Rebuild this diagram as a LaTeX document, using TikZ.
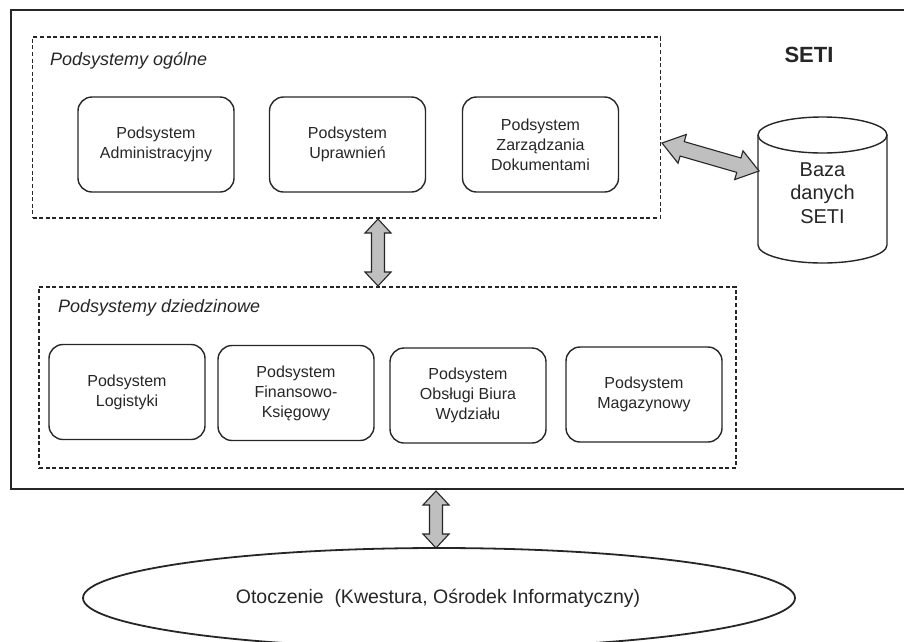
\documentclass[tikz,border=0pt]{standalone}
\usepackage{fontspec}
\setmainfont{Liberation Sans}
\usetikzlibrary{calc,shapes.geometric}
\definecolor{ink}{HTML}{262626}
\definecolor{arrfill}{HTML}{BFBFBF}
\newcommand\blockarr[5]{%
  \path ($(#1)!#3!(#2)$) coordinate (ba1) ($(#2)!#3!(#1)$) coordinate (ba2);
  \draw[barrow] (#1) -- ($(ba1)!#5!90:(#2)$) -- ($(ba1)!#4!90:(#2)$) --
    ($(ba2)!#4!-90:(#1)$) -- ($(ba2)!#5!-90:(#1)$) -- (#2) --
    ($(ba2)!#5!90:(#1)$) -- ($(ba2)!#4!90:(#1)$) --
    ($(ba1)!#4!-90:(#2)$) -- ($(ba1)!#5!-90:(#2)$) -- cycle;}
\begin{document}
\begin{tikzpicture}[x=1pt,y=-1pt,
  outerbox/.style={draw=ink, line width=2.8pt},
  groupbox/.style={draw=ink, line width=1.6pt, dash pattern=on 4pt off 2.6pt, minimum width=#1, minimum height=181pt, inner sep=0pt},
  subbox/.style={draw=ink, line width=1.4pt, rounded corners=14pt, minimum width=156pt, minimum height=95pt, align=center, font=\fontsize{16}{20}\selectfont, text=ink, inner sep=0pt},
  grouplabel/.style={anchor=west, font=\fontsize{18}{22}\selectfont\itshape, text=ink, inner sep=0pt},
  barrow/.style={draw=ink, fill=arrfill, line width=1.1pt, line join=miter},
  cyl/.style={draw=ink, line width=1.4pt}
]
\useasboundingbox (0,0) rectangle (904,641);
% outer SETI frame (right edge lies beyond the picture)
\draw[outerbox] (930,10) -- (11,10) -- (11,489) -- (930,489);
\node[font=\fontsize{22}{26}\selectfont\bfseries, text=ink] (seti) at (809,55) {SETI};

% general subsystems
\node[groupbox=628pt] (gen) at (346.5,127.5) {};
\node[grouplabel] (genlab) at (50,61) {Podsystemy ogólne};
\node[subbox] (adm) at (156,144.5) {Podsystem\\Administracyjny};
\node[subbox] (upr) at (347.5,144.5) {Podsystem\\Uprawnień};
\node[subbox] (zar) at (540.5,144.5) {Podsystem\\Zarządzania\\Dokumentami};

% domain subsystems
\node[groupbox=697pt] (dom) at (387.5,377.5) {};
\node[grouplabel] (domlab) at (58,308) {Podsystemy dziedzinowe};
\node[subbox] (log) at (127,392) {Podsystem\\Logistyki};
\node[subbox] (fin) at (296,393) {Podsystem\\Finansowo-\\Księgowy};
\node[subbox] (obs) at (468,395.5) {Podsystem\\Obsługi Biura\\Wydziału};
\node[subbox] (mag) at (644,394.5) {Podsystem\\Magazynowy};

% database cylinder
\draw[cyl, fill=white] (758,135) -- (758,245) arc[start angle=180, end angle=0, x radius=64.5, y radius=18] -- (887,135);
\draw[cyl] (822.5,135) ellipse [x radius=64.5, y radius=18];
\node[align=center, font=\fontsize{20}{23.5}\selectfont, text=ink] (db) at (822.5,193) {Baza\\danych\\SETI};

% environment
\node[draw=ink, line width=1.8pt, ellipse, minimum width=712pt, minimum height=100pt, inner sep=0pt] (env) at (439,598) {};
\node[font=\fontsize{19.5}{23}\selectfont, text=ink] (envtxt) at (438,598) {Otoczenie\ \ (Kwestura, Ośrodek Informatyczny)};

% connector end points
\coordinate (zarR) at (662,143);
\coordinate (dbL) at (759,171);
\coordinate (genS) at (378,219);
\coordinate (domN) at (378,286);
\coordinate (setiS) at (436,491);
\coordinate (envN) at (436,548);

% block double arrows
\blockarr{zarR}{dbL}{21pt}{7.5pt}{15pt}
\blockarr{genS}{domN}{14pt}{6.5pt}{13pt}
\blockarr{setiS}{envN}{14pt}{6.5pt}{13pt}
\end{tikzpicture}
\end{document}
